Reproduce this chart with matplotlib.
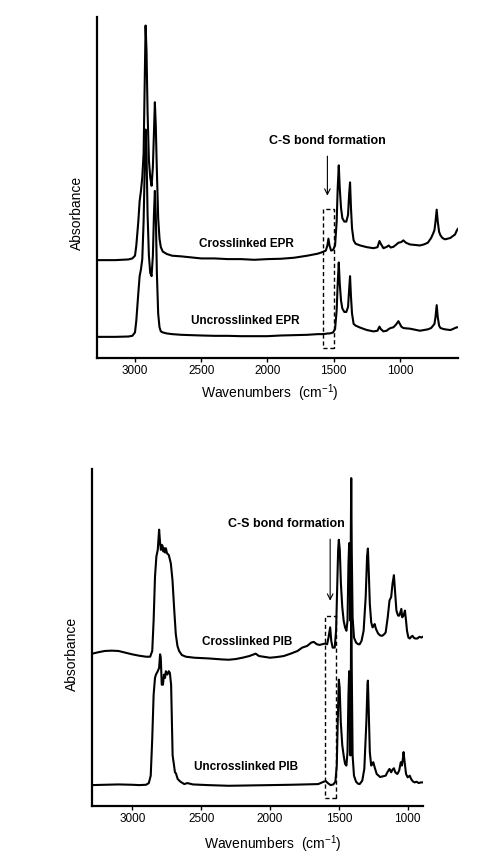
import matplotlib
matplotlib.use("Agg")
import matplotlib.pyplot as plt
from matplotlib.patches import Rectangle

plt.rcParams['font.family'] = ['Liberation Sans', 'DejaVu Sans']
plt.rcParams['mathtext.fontset'] = 'custom'
plt.rcParams['mathtext.rm'] = 'Liberation Sans'

# ---- EPR spectra (wavenumber, absorbance in arbitrary units) ----
epr_wn = [3289, 3150, 3050, 3020, 3000, 2990, 2975, 2965, 2955, 2945, 2935, 2927,
          2920, 2913, 2905, 2895, 2885, 2875, 2865, 2857, 2850, 2843, 2835, 2825,
          2815, 2805, 2790, 2760, 2720, 2650, 2500, 2400, 2300, 2200, 2100, 2000,
          1900, 1800, 1700, 1620, 1590, 1560, 1548, 1540, 1532, 1520, 1505, 1490,
          1478, 1470, 1462, 1455, 1445, 1435, 1420, 1405, 1392, 1384, 1377, 1370,
          1362, 1350, 1335, 1300, 1250, 1200, 1170, 1155, 1145, 1125, 1100, 1085,
          1070, 1050, 1030, 1012, 990, 975, 955, 925, 900, 850, 820, 790, 765, 750,
          740, 732, 723, 715, 705, 695, 680, 660, 640, 620, 600, 585, 570, 560]
epr_cross = [0.287, 0.287, 0.289, 0.292, 0.300, 0.330, 0.400, 0.460, 0.490, 0.530,
             0.600, 0.800, 0.975, 0.900, 0.720, 0.580, 0.530, 0.505, 0.560, 0.660,
             0.750, 0.680, 0.550, 0.410, 0.350, 0.325, 0.312, 0.305, 0.300, 0.298,
             0.292, 0.292, 0.290, 0.290, 0.288, 0.290, 0.291, 0.294, 0.300, 0.306,
             0.310, 0.315, 0.330, 0.350, 0.330, 0.315, 0.317, 0.330, 0.400, 0.500,
             0.565, 0.500, 0.440, 0.410, 0.400, 0.400, 0.420, 0.480, 0.515, 0.440,
             0.380, 0.345, 0.335, 0.330, 0.325, 0.322, 0.325, 0.343, 0.335, 0.322,
             0.326, 0.330, 0.324, 0.326, 0.332, 0.338, 0.340, 0.345, 0.338, 0.333,
             0.332, 0.330, 0.333, 0.338, 0.352, 0.365, 0.375, 0.400, 0.435, 0.400,
             0.370, 0.360, 0.352, 0.348, 0.350, 0.352, 0.358, 0.362, 0.375, 0.380]
epr_uncross = [0.062, 0.062, 0.063, 0.065, 0.075, 0.110, 0.190, 0.240, 0.260, 0.290,
               0.400, 0.550, 0.670, 0.600, 0.420, 0.300, 0.250, 0.240, 0.300, 0.420,
               0.490, 0.420, 0.250, 0.130, 0.090, 0.078, 0.075, 0.072, 0.070, 0.068,
               0.066, 0.065, 0.065, 0.064, 0.064, 0.064, 0.066, 0.067, 0.068, 0.070,
               0.070, 0.071, 0.072, 0.072, 0.072, 0.073, 0.075, 0.085, 0.140, 0.220,
               0.280, 0.220, 0.168, 0.145, 0.135, 0.135, 0.150, 0.200, 0.240, 0.180,
               0.130, 0.100, 0.095, 0.089, 0.082, 0.078, 0.080, 0.092, 0.085, 0.078,
               0.080, 0.085, 0.088, 0.090, 0.098, 0.108, 0.092, 0.088, 0.087, 0.086,
               0.084, 0.080, 0.082, 0.084, 0.088, 0.095, 0.100, 0.120, 0.155, 0.120,
               0.095, 0.088, 0.086, 0.084, 0.083, 0.082, 0.085, 0.088, 0.090, 0.090]

# ---- PIB spectra ----
pib_cross_wn = [3291, 3250, 3200, 3150, 3100, 3050, 3000, 2950, 2900, 2870, 2855,
                2845, 2835, 2825, 2815, 2805, 2798, 2792, 2786, 2780, 2774, 2768,
                2762, 2756, 2748, 2735, 2720, 2708, 2695, 2684, 2672, 2660, 2640,
                2611, 2550, 2450, 2350, 2300, 2250, 2200, 2150, 2104, 2080, 2000,
                1950, 1900, 1850, 1800, 1766, 1730, 1700, 1682, 1660, 1640, 1620,
                1600, 1585, 1575, 1563, 1555, 1545, 1530, 1520, 1512, 1505, 1500,
                1493, 1485, 1475, 1465, 1455, 1445, 1437, 1430, 1425, 1420, 1416,
                1413, 1410, 1406, 1400, 1390, 1375, 1360, 1349, 1335, 1320, 1305,
                1295, 1289, 1283, 1275, 1265, 1255, 1245, 1240, 1230, 1215, 1200,
                1185, 1170, 1160, 1145, 1132, 1120, 1110, 1100, 1092, 1082, 1070,
                1060, 1050, 1046, 1040, 1030, 1020, 1012, 1005, 995, 985, 975, 965,
                955, 945, 930, 915, 900, 891]
pib_cross = [0.452, 0.456, 0.460, 0.461, 0.460, 0.455, 0.450, 0.446, 0.443, 0.443,
             0.460, 0.550, 0.680, 0.740, 0.760, 0.820, 0.780, 0.760, 0.775, 0.772,
             0.755, 0.765, 0.752, 0.765, 0.750, 0.745, 0.720, 0.670, 0.580, 0.510,
             0.475, 0.460, 0.448, 0.443, 0.440, 0.438, 0.435, 0.434, 0.436, 0.440,
             0.445, 0.452, 0.445, 0.440, 0.442, 0.445, 0.452, 0.460, 0.470, 0.475,
             0.485, 0.487, 0.480, 0.478, 0.480, 0.482, 0.480, 0.500, 0.530, 0.490,
             0.470, 0.470, 0.520, 0.650, 0.760, 0.790, 0.760, 0.660, 0.590, 0.550,
             0.530, 0.520, 0.550, 0.720, 0.780, 0.700, 0.550, 0.800, 0.973, 0.750,
             0.560, 0.500, 0.485, 0.480, 0.480, 0.490, 0.520, 0.620, 0.740, 0.764,
             0.700, 0.600, 0.545, 0.530, 0.535, 0.540, 0.525, 0.512, 0.506, 0.505,
             0.510, 0.515, 0.560, 0.610, 0.620, 0.660, 0.685, 0.640, 0.580, 0.565,
             0.565, 0.580, 0.585, 0.560, 0.565, 0.580, 0.550, 0.520, 0.500, 0.497,
             0.502, 0.505, 0.499, 0.497, 0.497, 0.502, 0.500, 0.502]

pib_uncross_wn = [3291, 3200, 3100, 3000, 2950, 2900, 2880, 2866, 2855, 2845, 2835,
                  2828, 2815, 2805, 2798, 2793, 2786, 2777, 2770, 2762, 2756, 2745,
                  2735, 2727, 2718, 2707, 2700, 2690, 2683, 2670, 2650, 2622, 2600,
                  2560, 2450, 2300, 2150, 2000, 1850, 1750, 1650, 1610, 1595, 1580,
                  1560, 1540, 1525, 1515, 1508, 1500, 1494, 1486, 1475, 1465, 1455,
                  1445, 1437, 1430, 1425, 1420, 1416, 1413, 1410, 1406, 1400, 1390,
                  1375, 1360, 1349, 1330, 1315, 1300, 1292, 1289, 1284, 1275, 1265,
                  1255, 1250, 1240, 1225, 1200, 1180, 1160, 1145, 1132, 1120, 1110,
                  1100, 1090, 1075, 1062, 1050, 1042, 1035, 1030, 1022, 1012, 1000,
                  985, 975, 962, 950, 935, 920, 905, 891]
pib_uncross = [0.062, 0.063, 0.064, 0.063, 0.062, 0.063, 0.068, 0.090, 0.200, 0.330,
               0.380, 0.390, 0.400, 0.410, 0.450, 0.440, 0.360, 0.360, 0.390, 0.380,
               0.400, 0.390, 0.400, 0.395, 0.360, 0.150, 0.130, 0.100, 0.097, 0.080,
               0.072, 0.065, 0.068, 0.064, 0.062, 0.060, 0.061, 0.062, 0.063, 0.064,
               0.065, 0.072, 0.074, 0.068, 0.062, 0.064, 0.072, 0.120, 0.250, 0.375,
               0.350, 0.250, 0.180, 0.150, 0.125, 0.120, 0.160, 0.330, 0.400, 0.300,
               0.150, 0.350, 0.620, 0.400, 0.150, 0.090, 0.072, 0.066, 0.065, 0.075,
               0.110, 0.250, 0.360, 0.372, 0.300, 0.160, 0.120, 0.125, 0.130, 0.115,
               0.095, 0.086, 0.088, 0.090, 0.102, 0.110, 0.100, 0.108, 0.112, 0.100,
               0.095, 0.105, 0.130, 0.120, 0.140, 0.160, 0.130, 0.095, 0.085, 0.090,
               0.080, 0.073, 0.070, 0.072, 0.068, 0.070, 0.070]

xticks = [3000, 2500, 2000, 1500, 1000]


def style_axis(ax, xlim, ylab_xy, xlab_xy):
    ax.set_xlim(*xlim)
    ax.set_ylim(0, 1)
    ax.spines['top'].set_visible(False)
    ax.spines['right'].set_visible(False)
    ax.spines['left'].set_linewidth(1.6)
    ax.spines['bottom'].set_linewidth(1.6)
    ax.set_yticks([])
    ax.set_xticks(xticks)
    ax.tick_params(axis='x', direction='out', length=3, width=1, pad=2, labelsize=8.5)
    ax.set_ylabel('Absorbance', fontsize=10)
    ax.yaxis.set_label_coords(*ylab_xy)
    ax.set_xlabel('Wavenumbers  (cm$^{-1}$)', fontsize=10)
    ax.xaxis.set_label_coords(*xlab_xy)


fig = plt.figure(figsize=(4.8, 8.57), dpi=100)

# top panel: EPR
ax1 = fig.add_axes([96.7 / 480, 1 - 358 / 857, 361.6 / 480, 341 / 857])
ax1.plot(epr_wn, epr_cross, color='black', lw=1.5, solid_joinstyle='round')
ax1.plot(epr_wn, epr_uncross, color='black', lw=1.5, solid_joinstyle='round')
style_axis(ax1, (3289, 560), (-0.036, 0.425), (0.479, -0.072))
ax1.text(2161, 0.335, 'Crosslinked EPR', fontsize=8.5, fontweight='bold', ha='center', va='center')
ax1.text(2168, 0.109, 'Uncrosslinked EPR', fontsize=8.5, fontweight='bold', ha='center', va='center')
ax1.add_patch(Rectangle((1498, 0.028), 85, 0.408, fill=False, ls=(0, (3, 2)), lw=1.0, color='black'))
ax1.annotate('', xy=(1548, 0.468), xytext=(1548, 0.60),
             arrowprops=dict(arrowstyle='->', color='black', lw=0.8))
ax1.text(1548, 0.636, 'C-S bond formation', fontsize=9, fontweight='bold', ha='center', va='center')

# bottom panel: PIB
ax2 = fig.add_axes([92.2 / 480, 1 - 806 / 857, 330.5 / 480, 337 / 857])
ax2.plot(pib_cross_wn, pib_cross, color='black', lw=1.5, solid_joinstyle='round')
ax2.plot(pib_uncross_wn, pib_uncross, color='black', lw=1.5, solid_joinstyle='round')
style_axis(ax2, (3291, 891), (-0.04, 0.451), (0.547, -0.08))
ax2.text(2165, 0.488, 'Crosslinked PIB', fontsize=8.5, fontweight='bold', ha='center', va='center')
ax2.text(2177, 0.116, 'Uncrosslinked PIB', fontsize=8.5, fontweight='bold', ha='center', va='center')
ax2.add_patch(Rectangle((1524, 0.023), 75, 0.541, fill=False, ls=(0, (3, 2)), lw=1.0, color='black'))
ax2.annotate('', xy=(1563, 0.601), xytext=(1563, 0.80),
             arrowprops=dict(arrowstyle='->', color='black', lw=0.8))
ax2.text(1882, 0.838, 'C-S bond formation', fontsize=9, fontweight='bold', ha='center', va='center')

fig.savefig('out.png', dpi=100)
